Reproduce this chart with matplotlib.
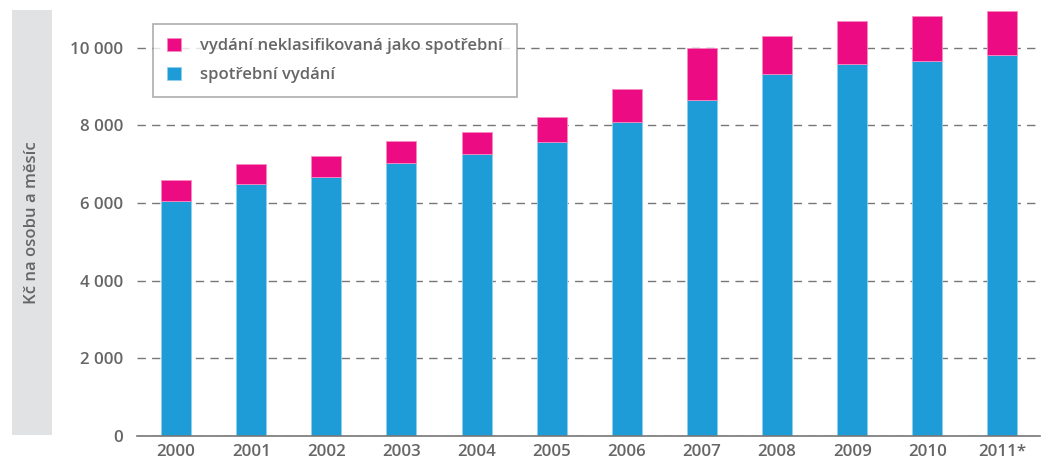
import matplotlib.pyplot as plt
from matplotlib.patches import Rectangle

years = ["2000", "2001", "2002", "2003", "2004", "2005",
         "2006", "2007", "2008", "2009", "2010", "2011*"]
consumption = [6060, 6500, 6680, 7040, 7270, 7580,
               8090, 8650, 9330, 9590, 9665, 9810]
total = [6600, 7010, 7220, 7600, 7835, 8220,
         8935, 9990, 10310, 10700, 10820, 10955]
other = [t - c for t, c in zip(total, consumption)]

blue = "#1e9cd8"
pink = "#ec0b83"
grey_text = "#666666"

plt.rcParams['font.family'] = ['Open Sans', 'DejaVu Sans']

fig = plt.figure(figsize=(10.47, 4.61), dpi=100)
ax = fig.add_axes([137 / 1047, 1 - 436 / 461, (1040 - 137) / 1047, (436 - 5) / 461])

x = list(range(len(years)))
ax.bar(x, consumption, width=0.4, color=blue, edgecolor="#8fd0ef", linewidth=0.6,
       label="spotřební vydání", zorder=3)
ax.bar(x, other, width=0.4, bottom=consumption, color=pink, edgecolor="#f58cc2",
       linewidth=0.6, label="vydání neklasifikovaná jako spotřební", zorder=3)

ax.set_xlim(-0.52, 11.5)
ax.set_ylim(0, 11100)
ax.set_yticks([0, 2000, 4000, 6000, 8000, 10000])
ax.set_yticklabels(["0", "2 000", "4 000", "6 000", "8 000", "10 000"])
ax.set_xticks(x)
ax.set_xticklabels(years)
ax.tick_params(length=0, labelsize=12.2, labelcolor=grey_text, pad=10)
ax.tick_params(axis='x', pad=6)
for lab in ax.get_xticklabels() + ax.get_yticklabels():
    lab.set_fontweight('semibold')

ax.yaxis.grid(True, linestyle=(0, (6, 4.5)), color="#777777", linewidth=1.0, zorder=0)
for s in ["top", "right", "left"]:
    ax.spines[s].set_visible(False)
ax.spines["bottom"].set_color("#777777")
ax.spines["bottom"].set_linewidth(1.2)
ax.spines["bottom"].set_zorder(4)

handles, labels = ax.get_legend_handles_labels()
leg = ax.legend(handles[::-1], labels[::-1], loc="upper left",
                bbox_to_anchor=(16 / 903, 1 - 19 / 431), borderaxespad=0,
                frameon=True, fancybox=False, handlelength=0.8, handleheight=0.8,
                handletextpad=1.2, borderpad=0.85, labelspacing=0.75,
                prop={'size': 12, 'weight': 'semibold'})
leg.get_frame().set_edgecolor("#999999")
leg.get_frame().set_linewidth(1.2)
for t in leg.get_texts():
    t.set_color(grey_text)
leg.set_zorder(5)

# grey box behind the y-axis title
fig.patches.append(Rectangle((12 / 1047, 1 - 435 / 461), 40 / 1047, 425 / 461,
                             transform=fig.transFigure, facecolor="#e1e2e4",
                             edgecolor="none", zorder=0))
fig.text(32 / 1047, 1 - 223 / 461, "Kč na osobu a měsíc", rotation=90,
         ha="center", va="center", fontsize=12, fontweight='semibold',
         color=grey_text)

fig.savefig("out.png", dpi=100)
